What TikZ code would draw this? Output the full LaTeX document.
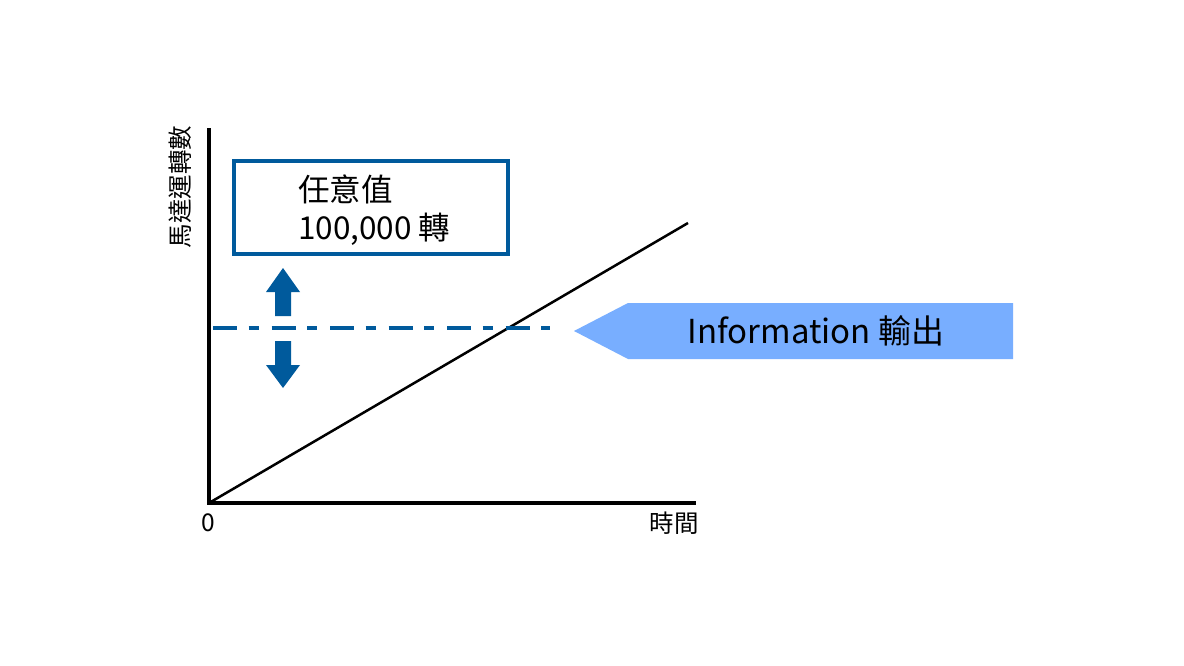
\documentclass[tikz,border=0pt]{standalone}
\usepackage{fontspec}
\setmainfont{Noto Sans CJK TC}
\definecolor{dblue}{HTML}{005A9C}
\definecolor{lblue}{HTML}{78AEFF}
\begin{document}
\begin{tikzpicture}[x=1pt,y=-1pt,
  axis/.style={line width=4.5pt,line cap=rect},
  lbl/.style={font=\fontsize{24.5}{28}\selectfont,inner sep=0pt},
  boxtext/.style={font=\fontsize{31.5}{38}\selectfont,inner sep=0pt,align=left},
  blockarrow/.style={fill=dblue,draw=none}]
\useasboundingbox (0,0) rectangle (1184,666);
\fill[white] (0,0) rectangle (1184,666);
% axes
\coordinate (origin) at (209,503);
\coordinate (ytop) at (209,130);
\coordinate (xend) at (694,503);
\coordinate (lineend) at (688,223);
\draw[axis] (ytop) -- (origin) -- (xend);
\draw[line width=2.5pt] (origin) -- (lineend);
% labels
\node[lbl,rotate=90] (ylab) at (180,187) {馬達運轉數};
\node[lbl] (zero) at (208,523) {0};
\node[lbl] (time) at (674,523) {時間};
% box
\node[draw=dblue,line width=4pt,minimum width=274pt,minimum height=93pt,inner sep=0pt] (box) at (371,207.5) {};
\node[boxtext,anchor=west] (t1) at (298,189) {任意值};
\node[boxtext,anchor=west] (t2) at (298,229) {100,000 轉};
% dash-dot line
\coordinate (ds) at (213,328);
\coordinate (de) at (550,328);
\draw[dblue,line width=4.5pt,dash pattern=on 24pt off 11.5pt on 10pt off 13pt] (ds) -- (de);
% block arrows
\fill[blockarrow] (283,268) -- (300,292) -- (291,292) -- (291,316) -- (275,316) -- (275,292) -- (266,292) -- cycle;
\fill[blockarrow] (283,388) -- (300,365) -- (291,365) -- (291,341) -- (275,341) -- (275,365) -- (266,365) -- cycle;
% information arrow
\fill[lblue] (574,331) -- (628,303) -- (1013,303) -- (1013,359) -- (628,359) -- cycle;
\node[font=\fontsize{33}{38}\selectfont,inner sep=0pt] (info) at (816,331) {Information 輸出};
\end{tikzpicture}
\end{document}
